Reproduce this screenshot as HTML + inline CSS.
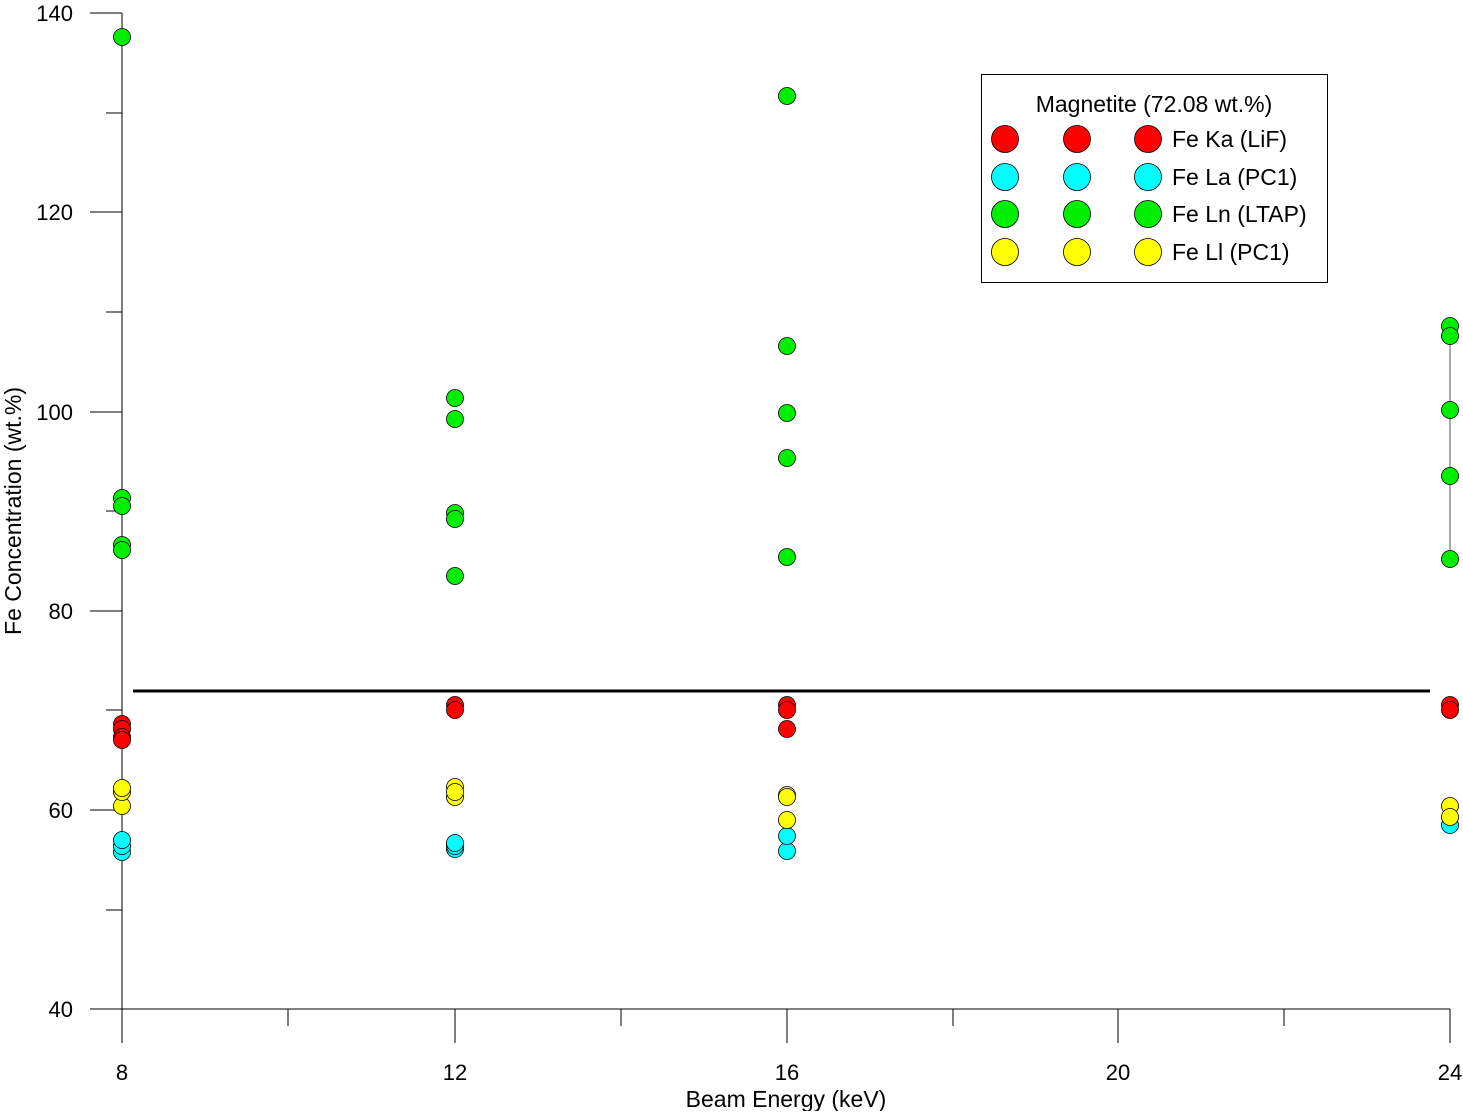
<!DOCTYPE html>
<html><head><style>body{margin:0;background:#fff}</style></head><body>
<svg width="1463" height="1111" xmlns="http://www.w3.org/2000/svg" font-family="Liberation Sans, sans-serif">
<rect width="1463" height="1111" fill="#fff"/>
<g stroke="#000" stroke-width="1">
<line x1="122" y1="13" x2="122" y2="1043"/>
<line x1="90" y1="1009" x2="1450" y2="1009"/>
<line x1="90" y1="13" x2="122" y2="13"/><line x1="90" y1="212" x2="122" y2="212"/><line x1="90" y1="412" x2="122" y2="412"/><line x1="90" y1="611" x2="122" y2="611"/><line x1="90" y1="810" x2="122" y2="810"/>
<line x1="106" y1="113" x2="122" y2="113"/><line x1="106" y1="312" x2="122" y2="312"/><line x1="106" y1="511" x2="122" y2="511"/><line x1="106" y1="710" x2="122" y2="710"/><line x1="106" y1="910" x2="122" y2="910"/>
<line x1="455" y1="1009" x2="455" y2="1043"/><line x1="787" y1="1009" x2="787" y2="1043"/><line x1="1118" y1="1009" x2="1118" y2="1043"/><line x1="1450" y1="1009" x2="1450" y2="1043"/>
<line x1="288" y1="1009" x2="288" y2="1026"/><line x1="621" y1="1009" x2="621" y2="1026"/><line x1="953" y1="1009" x2="953" y2="1026"/><line x1="1284" y1="1009" x2="1284" y2="1026"/>
<line x1="1450" y1="326" x2="1450" y2="559" stroke="#555"/>
</g>
<line x1="133" y1="691" x2="1430" y2="691" stroke="#000" stroke-width="3"/>
<g font-size="22" text-anchor="end" fill="#000">
<text x="73" y="21">140</text><text x="73" y="220">120</text><text x="73" y="420">100</text><text x="73" y="619">80</text><text x="73" y="818">60</text><text x="73" y="1017">40</text>
</g>
<g font-size="22" text-anchor="middle">
<text x="122" y="1080">8</text><text x="455" y="1080">12</text><text x="787" y="1080">16</text><text x="1118" y="1080">20</text><text x="1450" y="1080">24</text>
</g>
<g font-size="23" text-anchor="middle">
<text x="786" y="1107">Beam Energy (keV)</text>
<text transform="translate(21,511) rotate(-90)">Fe Concentration (wt.%)</text>
</g>
<g stroke="#000" stroke-width="0.8">
<g fill="#00ee00">
<circle cx="122" cy="37" r="8.5"/><circle cx="122" cy="498" r="8.5"/><circle cx="122" cy="506" r="8.5"/><circle cx="122" cy="545" r="8.5"/><circle cx="122" cy="550" r="8.5"/>
<circle cx="455" cy="398" r="8.5"/><circle cx="455" cy="419" r="8.5"/><circle cx="455" cy="513" r="8.5"/><circle cx="455" cy="519" r="8.5"/><circle cx="455" cy="576" r="8.5"/>
<circle cx="787" cy="96" r="8.5"/><circle cx="787" cy="346" r="8.5"/><circle cx="787" cy="413" r="8.5"/><circle cx="787" cy="458" r="8.5"/><circle cx="787" cy="557" r="8.5"/>
<circle cx="1450" cy="326" r="8.5"/><circle cx="1450" cy="336" r="8.5"/><circle cx="1450" cy="410" r="8.5"/><circle cx="1450" cy="476" r="8.5"/><circle cx="1450" cy="559" r="8.5"/>
</g>
<g fill="#ff0000">
<circle cx="122" cy="724" r="8.5"/><circle cx="122" cy="729" r="8.5"/><circle cx="122" cy="737" r="8.5"/><circle cx="122" cy="740" r="8.5"/>
<circle cx="455" cy="705" r="8.5"/><circle cx="455" cy="710" r="8.5"/>
<circle cx="787" cy="705" r="8.5"/><circle cx="787" cy="710" r="8.5"/><circle cx="787" cy="729" r="8.5"/>
<circle cx="1450" cy="705" r="8.5"/><circle cx="1450" cy="710" r="8.5"/>
</g>
<g fill="#00ffff">
<circle cx="122" cy="852" r="8.5"/><circle cx="122" cy="846" r="8.5"/><circle cx="122" cy="840" r="8.5"/>
<circle cx="455" cy="849" r="8.5"/><circle cx="455" cy="846" r="8.5"/><circle cx="455" cy="843" r="8.5"/>
<circle cx="787" cy="851" r="8.5"/><circle cx="787" cy="836" r="8.5"/>
<circle cx="1450" cy="825" r="8.5"/>
</g>
<g fill="#ffff00">
<circle cx="122" cy="806" r="8.5"/><circle cx="122" cy="792" r="8.5"/><circle cx="122" cy="788" r="8.5"/>
<circle cx="455" cy="797" r="8.5"/><circle cx="455" cy="787" r="8.5"/><circle cx="455" cy="792" r="8.5"/>
<circle cx="787" cy="820" r="8.5"/><circle cx="787" cy="795" r="8.5"/><circle cx="787" cy="797" r="8.5"/>
<circle cx="1450" cy="806" r="8.5"/><circle cx="1450" cy="817" r="8.5"/>
</g>
</g>
<rect x="981.5" y="74.5" width="346" height="208" fill="#fff" stroke="#000"/>
<text x="1154" y="112" font-size="23" text-anchor="middle">Magnetite (72.08 wt.%)</text>
<g stroke="#000" stroke-width="0.8">
<g fill="#ff0000"><circle cx="1005" cy="139" r="13.5"/><circle cx="1077" cy="139" r="13.5"/><circle cx="1148" cy="139" r="13.5"/></g>
<g fill="#00ffff"><circle cx="1005" cy="177" r="13.5"/><circle cx="1077" cy="177" r="13.5"/><circle cx="1148" cy="177" r="13.5"/></g>
<g fill="#00ee00"><circle cx="1005" cy="214" r="13.5"/><circle cx="1077" cy="214" r="13.5"/><circle cx="1148" cy="214" r="13.5"/></g>
<g fill="#ffff00"><circle cx="1005" cy="252" r="13.5"/><circle cx="1077" cy="252" r="13.5"/><circle cx="1148" cy="252" r="13.5"/></g>
</g>
<g font-size="23">
<text x="1172" y="147">Fe Ka (LiF)</text><text x="1172" y="185">Fe La (PC1)</text><text x="1172" y="222">Fe Ln (LTAP)</text><text x="1172" y="260">Fe Ll (PC1)</text>
</g>
</svg>
</body></html>
